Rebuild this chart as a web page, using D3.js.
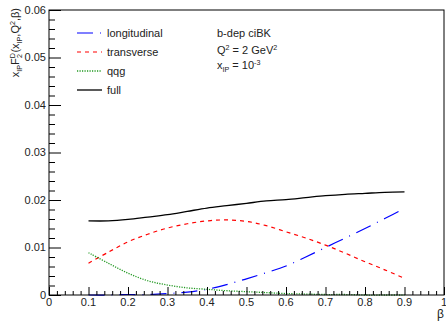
<!DOCTYPE html>
<html><head><meta charset="utf-8">
<script src="https://cdn.jsdelivr.net/npm/d3@7"></script>
<style>body{margin:0;background:#fff}svg{display:block;font-family:"Liberation Sans",Arial,sans-serif}</style>
</head><body>
<svg id="c" width="446" height="322"></svg>
<script>
const beta = [0.1,0.15,0.2,0.25,0.3,0.35,0.4,0.45,0.5,0.55,0.6,0.65,0.7,0.75,0.8,0.85,0.9];
const longitudinal = [0.0000,0.0000,0.0001,0.0001,0.0003,0.0006,0.0012,0.0022,0.0034,0.0047,0.0061,0.0080,0.0100,0.0120,0.0140,0.0161,0.0182];
const transverse  = [0.0067,0.0090,0.0112,0.0128,0.0141,0.0150,0.0156,0.0158,0.0155,0.0146,0.0133,0.0120,0.0105,0.0088,0.0070,0.0053,0.0035];
const qqg         = [0.0089,0.0067,0.0046,0.0030,0.0021,0.0015,0.0012,0.0009,0.0007,0.0005,0.0003,0.0002,0.0001,0.0001,0.0000,0.0000,0.0000];
const full        = [0.0156,0.0156,0.0159,0.0164,0.0169,0.0176,0.0183,0.0188,0.0193,0.0198,0.0201,0.0205,0.0209,0.0212,0.0214,0.0216,0.0217];
const xTicks = [0,0.1,0.2,0.3,0.4,0.5,0.6,0.7,0.8,0.9,1];
const yTicks = [0,0.01,0.02,0.03,0.04,0.05,0.06];
const seriesNames = ["longitudinal","transverse","qqg","full"];

const svg = d3.select("#c");
const L=49,R=444,T=10,B=295;
const x = d3.scaleLinear().domain([0,1]).range([L,R]);
const y = d3.scaleLinear().domain([0,0.06]).range([B,T]);

const series = [
  {name:seriesNames[0], vals:longitudinal, color:"#0000ff", dash:"16,7,1,7", w:1.2},
  {name:seriesNames[1], vals:transverse, color:"#ff0000", dash:"4,4", w:1.2},
  {name:seriesNames[2], vals:qqg, color:"#229922", dash:"1.2,1.3", w:1.3},
  {name:seriesNames[3], vals:full, color:"#000000", dash:null, w:1.3}
];

const line = d3.line().x(d=>x(d[0])).y(d=>y(d[1])).curve(d3.curveCatmullRom.alpha(0.5));
series.forEach(s=>{
  svg.append("path").attr("d", line(beta.map((b,i)=>[b,s.vals[i]])))
    .attr("fill","none").attr("stroke",s.color).attr("stroke-width",s.w)
    .attr("stroke-dasharray",s.dash);
});

// frame
svg.append("rect").attr("x",L).attr("y",T).attr("width",R-L).attr("height",B-T)
  .attr("fill","none").attr("stroke","#000").attr("stroke-width",1);

// y axis ticks (inside)
const gy = svg.append("g").attr("transform",`translate(${L},0)`).call(d3.axisRight(y).tickValues(yTicks).tickSize(12).tickFormat(""));
gy.select(".domain").remove();
const yMinor = d3.range(0,0.0601,0.002).filter(v=>Math.abs(v/0.01-Math.round(v/0.01))>1e-6);
svg.append("g").attr("transform",`translate(${L},0)`).call(d3.axisRight(y).tickValues(yMinor).tickSize(6).tickFormat(""))
  .select(".domain").remove();
yTicks.forEach(v=>{
  svg.append("text").attr("x",L-3).attr("y",y(v)).attr("dy","0.36em").attr("text-anchor","end")
    .attr("font-size",11).attr("fill","#222").text(v===0?"0":v.toFixed(2));
});

// x axis ticks (inside)
const gx = svg.append("g").attr("transform",`translate(0,${B})`).call(d3.axisTop(x).tickValues(xTicks).tickSize(8).tickFormat(""));
gx.select(".domain").remove();
const xMinor = d3.range(0,1.0001,0.02).filter(v=>Math.abs(v/0.1-Math.round(v/0.1))>1e-6);
svg.append("g").attr("transform",`translate(0,${B})`).call(d3.axisTop(x).tickValues(xMinor).tickSize(4).tickFormat(""))
  .select(".domain").remove();
xTicks.forEach(v=>{
  svg.append("text").attr("x",x(v)).attr("y",B+11).attr("text-anchor","middle")
    .attr("font-size",11).attr("fill","#222").text(v===0?"0":(v===1?"1":v.toFixed(1)));
});
svg.selectAll(".tick line").attr("stroke","#000");

// axis titles
svg.append("text").attr("x",R).attr("y",318).attr("text-anchor","end").attr("font-size",12).attr("fill","#222").text("β");

function rich(t, parts, fs){
  let cur=0;
  parts.forEach(p=>{
    let target = p.m==="sub"? fs*0.3 : p.m==="sup"? -fs*0.4 : 0;
    const ts = t.append("tspan").attr("dy", target-cur).attr("font-size", p.m==="n"?fs:fs*0.65).text(p.t);
    if(p.dx) ts.attr("dx",p.dx);
    cur = target;
  });
}

const yt = svg.append("text").attr("transform","translate(19,8) rotate(-90)").attr("text-anchor","end")
  .attr("font-size",11).attr("fill","#222");
rich(yt,[{t:"x",m:"n"},{t:"IP",m:"sub"},{t:"F",m:"n"},{t:"D",m:"sup"},{t:"2",m:"sub",dx:-5},{t:"(x",m:"n",dx:1.5},{t:"IP",m:"sub"},{t:",Q",m:"n"},{t:"2",m:"sup"},{t:",β)",m:"n"}],11);

// legend
series.forEach((s,i)=>{
  const yy = 33 + i*19;
  svg.append("line").attr("x1",77).attr("x2",102).attr("y1",yy).attr("y2",yy)
    .attr("stroke",s.color).attr("stroke-width",s.w).attr("stroke-dasharray",s.dash);
  svg.append("text").attr("x",107).attr("y",yy).attr("dy","0.36em").attr("font-size",11).attr("fill","#222").text(s.name);
});

// annotation
svg.append("text").attr("x",217).attr("y",37).attr("font-size",11).attr("fill","#222").text("b-dep ciBK");
const q = svg.append("text").attr("x",217).attr("y",54).attr("font-size",11).attr("fill","#222");
rich(q,[{t:"Q",m:"n"},{t:"2",m:"sup"},{t:" = 2 GeV",m:"n"},{t:"2",m:"sup"}],11);
const xp = svg.append("text").attr("x",217).attr("y",69).attr("font-size",11).attr("fill","#222");
rich(xp,[{t:"x",m:"n"},{t:"IP",m:"sub"},{t:" = 10",m:"n"},{t:"-3",m:"sup"}],11);
</script>
</body></html>
